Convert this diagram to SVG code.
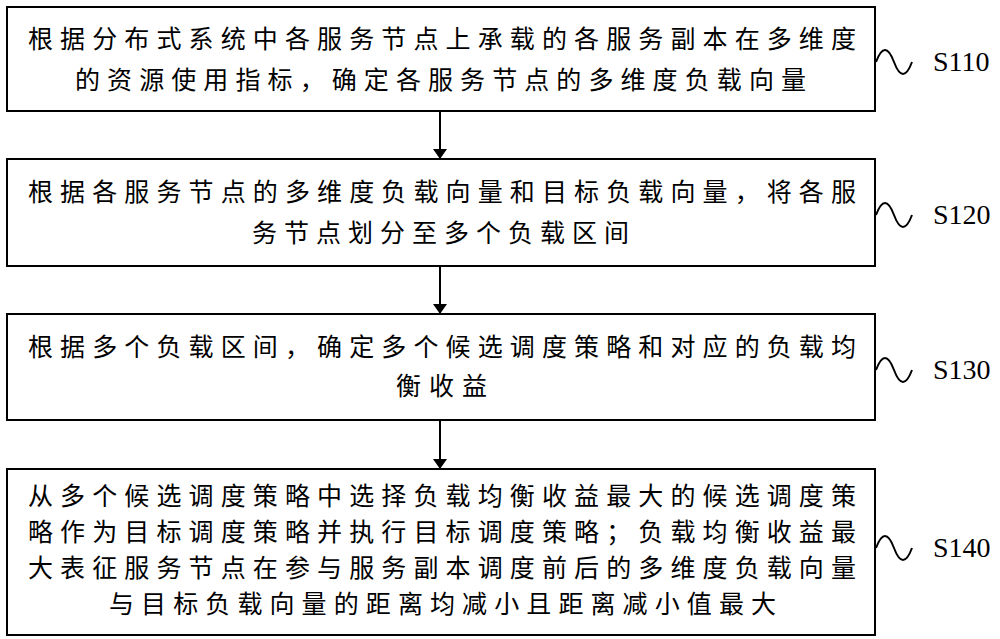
<svg xmlns="http://www.w3.org/2000/svg" width="1000" height="639" viewBox="0 0 1000 639">
<style>
.b{fill:#fff;stroke:#000;stroke-width:2}
.t{font-family:"Noto Sans CJK SC","Liberation Serif",serif;font-size:25px;fill:#000}
.s{font-family:"Liberation Serif",serif;font-size:28px;fill:#000}
.w{fill:none;stroke:#000;stroke-width:2}
.c{stroke:#000;stroke-width:2;fill:none}
</style>
<defs><marker id="a" markerWidth="10" markerHeight="14" refX="9" refY="7" orient="auto" markerUnits="userSpaceOnUse"><path d="M0,0L10,7L0,14z" fill="#000"/></marker></defs>
<rect width="1000" height="639" fill="#fff"/>
<g id="n1"><rect class="b" x="7" y="7" width="868" height="104"/>
<text class="t" x="28" y="48" textLength="828" lengthAdjust="spacing">根据分布式系统中各服务节点上承载的各服务副本在多维度</text>
<text class="t" x="75" y="89" textLength="731" lengthAdjust="spacing">的资源使用指标，确定各服务节点的多维度负载向量</text>
<path class="w" d="M876,62q9,-24 18,0t18,0"/><text class="s" x="933" y="71">S110</text></g>
<g id="n2"><rect class="b" x="7" y="159" width="868" height="107"/>
<text class="t" x="28" y="201" textLength="828" lengthAdjust="spacing">根据各服务节点的多维度负载向量和目标负载向量，将各服</text>
<text class="t" x="252" y="242" textLength="377" lengthAdjust="spacing">务节点划分至多个负载区间</text>
<path class="w" d="M876,215q9,-24 18,0t18,0"/><text class="s" x="933" y="224">S120</text></g>
<g id="n3"><rect class="b" x="7" y="314" width="868" height="106"/>
<text class="t" x="28" y="356" textLength="828" lengthAdjust="spacing">根据多个负载区间，确定多个候选调度策略和对应的负载均</text>
<text class="t" x="396" y="395" textLength="91" lengthAdjust="spacing">衡收益</text>
<path class="w" d="M876,370q9,-24 18,0t18,0"/><text class="s" x="933" y="379">S130</text></g>
<g id="n4"><rect class="b" x="7" y="469" width="868" height="166"/>
<text class="t" x="28" y="505" textLength="828" lengthAdjust="spacing">从多个候选调度策略中选择负载均衡收益最大的候选调度策</text>
<text class="t" x="28" y="541" textLength="828" lengthAdjust="spacing">略作为目标调度策略并执行目标调度策略；负载均衡收益最</text>
<text class="t" x="28" y="577" textLength="828" lengthAdjust="spacing">大表征服务节点在参与服务副本调度前后的多维度负载向量</text>
<text class="t" x="109" y="613" textLength="667" lengthAdjust="spacing">与目标负载向量的距离均减小且距离减小值最大</text>
<path class="w" d="M876,548q9,-24 18,0t18,0"/><text class="s" x="933" y="557">S140</text></g>
<g id="connectors">
<line class="c" x1="440" y1="111" x2="440" y2="158" marker-end="url(#a)"/>
<line class="c" x1="440" y1="266" x2="440" y2="313" marker-end="url(#a)"/>
<line class="c" x1="440" y1="420" x2="440" y2="468" marker-end="url(#a)"/>
</g>
</svg>
